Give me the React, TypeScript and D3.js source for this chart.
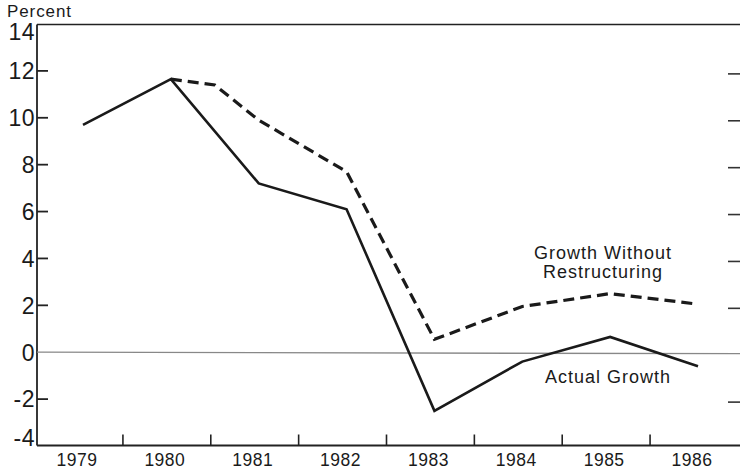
import React from "react";
import * as d3 from "d3";

const years = [1979, 1980, 1981, 1982, 1983, 1984, 1985, 1986];
const actualYears = [1979, 1980, 1981, 1982, 1983, 1984, 1985, 1986];
const actualValues = [9.7, 11.65, 7.2, 6.1, -2.5, -0.4, 0.65, -0.6];
const noRestructYears = [1980, 1980.5, 1981, 1982, 1983, 1984, 1985, 1986];
const noRestructValues = [11.65, 11.4, 9.9, 7.7, 0.55, 1.95, 2.5, 2.05];
const yTicks = [14, 12, 10, 8, 6, 4, 2, 0, -2, -4];
const innerTicks = [12, 10, 8, 6, 4, 2, -2];
const yLabel = "Percent";
const labelNoRestruct = ["Growth Without", "Restructuring"];
const labelActual = "Actual Growth";

const W = 740;
const H = 473;
const left = 37;
const right = 740;
const top = 24.5;
const bottom = 445.5;

export default function App() {
  const x = d3.scaleLinear().domain([1979, 1986]).range([83, 698]);
  const y = d3.scaleLinear().domain([-4, 14]).range([446, 24]);

  const line = d3
    .line<[number, number]>()
    .x((d) => x(d[0]))
    .y((d) => y(d[1]));

  const actual = actualYears.map((yr, i) => [yr, actualValues[i]] as [number, number]);
  const noRest = noRestructYears.map((yr, i) => [yr, noRestructValues[i]] as [number, number]);

  const font = "'Liberation Sans', Arial, Helvetica, sans-serif";

  return (
    <svg
      width={W}
      height={H}
      style={{ position: "absolute", left: 0, top: 0, background: "#fff" }}
    >
      <rect x={0} y={0} width={W} height={H} fill="#fff" />
      {/* frame */}
      <line x1={left} x2={right} y1={top} y2={top} stroke="#222" strokeWidth={1.6} />
      <line x1={left} x2={left} y1={top} y2={bottom} stroke="#222" strokeWidth={1.8} />
      <line x1={left} x2={right} y1={bottom} y2={bottom} stroke="#222" strokeWidth={1.8} />
      {/* zero line */}
      <line x1={left} x2={right} y1={y(0)} y2={y(0) + 1.5} stroke="#888" strokeWidth={1.3} />

      {/* y ticks */}
      {innerTicks.map((v) => (
        <g key={"t" + v}>
          <line x1={left} x2={left + 11} y1={y(v)} y2={y(v)} stroke="#222" strokeWidth={1.8} />
          <line x1={right - 12} x2={right} y1={y(v) + 3} y2={y(v) + 3} stroke="#333" strokeWidth={1.6} />
        </g>
      ))}
      {yTicks.map((v) => {
        let yy = y(v);
        if (v === 14) yy += 8;
        if (v === -4) yy -= 8;
        return (
          <text
            key={"l" + v}
            x={35}
            y={yy}
            dy="0.36em"
            textAnchor="end"
            fontFamily={font}
            fontSize={23}
            letterSpacing={0.5}
            fill="#1a1a1a"
          >
            {v < 0 ? "-" + Math.abs(v) : v}
          </text>
        );
      })}
      <text x={7} y={17} fontFamily={font} fontSize={17} letterSpacing={0.9} fill="#1a1a1a">
        {yLabel}
      </text>

      {/* x ticks */}
      {years.slice(0, -1).map((yr) => (
        <line
          key={"xt" + yr}
          x1={x(yr + 0.5) - 4}
          x2={x(yr + 0.5) - 4}
          y1={bottom}
          y2={bottom - 11}
          stroke="#222"
          strokeWidth={1.6}
        />
      ))}
      {years.map((yr) => (
        <text
          key={"xl" + yr}
          x={x(yr) - 6}
          y={466}
          textAnchor="middle"
          fontFamily={font}
          fontSize={17.5}
          letterSpacing={0.5}
          fill="#1a1a1a"
        >
          {yr}
        </text>
      ))}

      {/* series */}
      <path d={line(noRest) || ""} fill="none" stroke="#1a1a1a" strokeWidth={3.2} strokeDasharray="11,6" />
      <path d={line(actual) || ""} fill="none" stroke="#1a1a1a" strokeWidth={2.6} strokeLinejoin="miter" />

      {/* annotations */}
      <text x={603} y={259} textAnchor="middle" fontFamily={font} fontSize={18} letterSpacing={1} fill="#1a1a1a">
        {labelNoRestruct[0]}
      </text>
      <text x={603} y={278} textAnchor="middle" fontFamily={font} fontSize={18} letterSpacing={1} fill="#1a1a1a">
        {labelNoRestruct[1]}
      </text>
      <text x={608} y={383} textAnchor="middle" fontFamily={font} fontSize={18} letterSpacing={1} fill="#1a1a1a">
        {labelActual}
      </text>
    </svg>
  );
}
